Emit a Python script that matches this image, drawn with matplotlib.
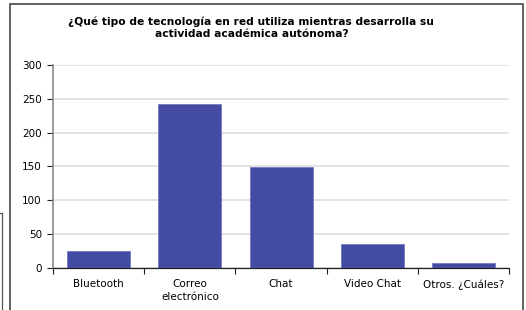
import matplotlib.pyplot as plt
from matplotlib.patches import Rectangle
from matplotlib.lines import Line2D

categories = ['Bluetooth', 'Correo\nelectrónico', 'Chat', 'Video Chat', 'Otros. ¿Cuáles?']
values = [25, 242, 149, 36, 7]
title = '¿Qué tipo de tecnología en red utiliza mientras desarrolla su\nactividad académica autónoma?'

fig = plt.figure(figsize=(5.26, 3.10), dpi=100)
ax = fig.add_axes([0.1008, 0.1355, 0.867, 0.655])

x = range(len(categories))
ax.bar(x, values, width=0.69, color='#434ba3', edgecolor='#6a70b8', linewidth=0.5, zorder=3)

ax.set_xlim(-0.5, len(categories) - 0.5)
ax.set_ylim(0, 300)
ax.set_yticks(range(0, 301, 50))
ax.yaxis.grid(True, color='#dedede', linewidth=1.2, zorder=0)

# category tick marks at the boundaries, labels centred under bars
ax.set_xticks([i + 0.5 for i in range(-1, len(categories))])
ax.set_xticklabels([])
ax.set_xticks(list(x), minor=True)
ax.set_xticklabels(categories, minor=True, fontsize=7.5, linespacing=1.4)
ax.tick_params(axis='x', which='minor', length=0, pad=8)
ax.tick_params(axis='x', which='major', length=4, width=0.8, color='#222222')
ax.tick_params(axis='y', length=4, width=0.8, color='#222222', labelsize=7.5, pad=4)

for s in ['top', 'right']:
    ax.spines[s].set_visible(False)
ax.spines['left'].set_color('#8a8a8a')
ax.spines['left'].set_linewidth(1.2)
ax.spines['bottom'].set_color('#222222')
ax.spines['bottom'].set_linewidth(0.9)

fig.text(0.478, 0.948, title, ha='center', va='top', fontsize=7.7, fontweight='bold', linespacing=1.3)

# chart frame and the edge of a neighbouring box
fig.patches.append(Rectangle((10 / 526, -0.1), 513 / 526, 1.1 - 4 / 310, transform=fig.transFigure,
                             fill=False, edgecolor='#555555', linewidth=1.3))
fig.lines.append(Line2D([2 / 526, 2 / 526], [0, 1 - 213 / 310], transform=fig.transFigure,
                        color='#555555', linewidth=0.9))
fig.lines.append(Line2D([0, 2 / 526], [1 - 213 / 310, 1 - 213 / 310], transform=fig.transFigure,
                        color='#555555', linewidth=0.9))

fig.savefig('out.png', dpi=100)
